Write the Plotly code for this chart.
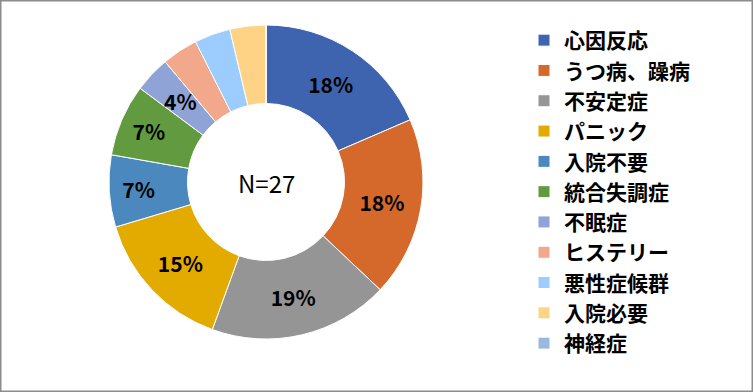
import math
import plotly.graph_objects as go

categories = ["心因反応", "うつ病、躁病", "不安定症", "パニック", "入院不要", "統合失調症",
              "不眠症", "ヒステリー", "悪性症候群", "入院必要", "神経症"]
counts = [5, 5, 5, 4, 2, 2, 1, 1, 1, 1, 0]
pct_labels = ["18%", "18%", "19%", "15%", "7%", "7%", "4%", "", "", "", ""]
colors = ["#3E64AF", "#D5692B", "#959595", "#E3AA00", "#4A88BD", "#629B3F",
          "#8FA3D6", "#F2A88A", "#9DCCFF", "#FFD385", "#9BB9DF"]
center_text = "N=27"

W, H = 753, 392
cx, cy, r = 266, 182, 157
hole = 0.5
label_font = dict(family="Noto Sans CJK JP", size=21, color="black", weight="bold")

# slices too thin for plotly to keep full-size inside text get an annotation
# placed at the slice's mid angle (computed from the data)
small_idx = [6]
inside_text = [("" if i in small_idx else t) for i, t in enumerate(pct_labels)]

fig = go.Figure(go.Pie(
    labels=categories,
    values=counts,
    text=inside_text,
    textinfo="text",
    textposition="inside",
    insidetextorientation="horizontal",
    textfont=label_font,
    hole=hole,
    sort=False,
    direction="clockwise",
    rotation=0,
    marker=dict(colors=colors, line=dict(color="white", width=1)),
    domain=dict(x=[(cx - r) / W, (cx + r) / W], y=[1 - (cy + r) / H, 1 - (cy - r) / H]),
    hoverinfo="label+value+percent",
))

total = sum(counts)
for i in small_idx:
    frac = (sum(counts[:i]) + counts[i] / 2) / total
    ang = 2 * math.pi * frac
    rm = r * (1 + hole) / 2
    px = cx + rm * math.sin(ang)
    py = cy - rm * math.cos(ang)
    fig.add_annotation(x=px / W, y=1 - py / H, xref="paper", yref="paper",
                       xanchor="center", yanchor="middle",
                       text=pct_labels[i], showarrow=False, font=label_font)

fig.add_annotation(x=cx / W, y=1 - cy / H, xref="paper", yref="paper", text=center_text,
                   xanchor="center", yanchor="middle",
                   showarrow=False, font=dict(family="Noto Sans CJK JP", size=24, color="black"))

fig.add_shape(type="rect", xref="paper", yref="paper", x0=0, y0=0, x1=1, y1=1,
              line=dict(color="#8C8C8C", width=3), fillcolor="rgba(0,0,0,0)")

fig.update_layout(
    width=W, height=H,
    margin=dict(l=0, r=0, t=0, b=0),
    paper_bgcolor="white",
    plot_bgcolor="white",
    showlegend=True,
    legend=dict(x=524 / W, y=1 - 20 / H, xanchor="left", yanchor="top",
                font=dict(family="Noto Sans CJK JP", size=21, color="black", weight="bold"),
                itemwidth=30, bgcolor="rgba(0,0,0,0)"),
)

fig.write_html("out.html", config={"displayModeBar": False},
               post_script="document.body.style.margin='0';")
